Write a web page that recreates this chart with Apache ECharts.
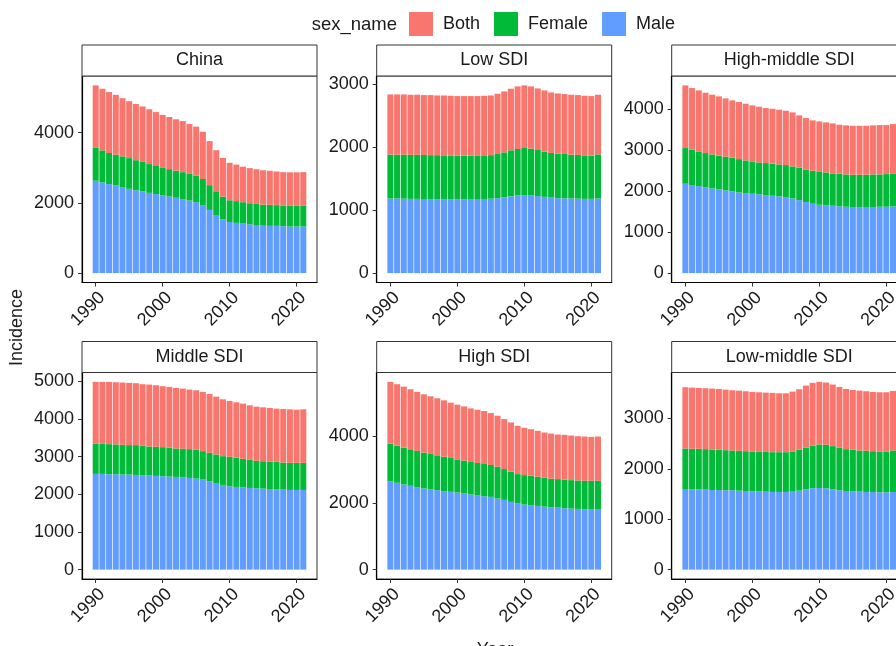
<!DOCTYPE html>
<html><head><meta charset="utf-8">
<script src="https://cdn.jsdelivr.net/npm/echarts@6/dist/echarts.min.js"></script>
<style>html,body{margin:0;padding:0;background:#fff}#c{width:896px;height:646px}</style>
</head><body><div id="c"></div>
<script>
const years = [1990,1991,1992,1993,1994,1995,1996,1997,1998,1999,2000,2001,2002,2003,2004,2005,2006,2007,2008,2009,2010,2011,2012,2013,2014,2015,2016,2017,2018,2019,2020,2021];
const regions = ['China','Low SDI','High-middle SDI','Middle SDI','High SDI','Low-middle SDI'];
const sexes = ['Both','Female','Male'];
const xTicks = [1990,2000,2010,2020];

const chinaMale   = [2630,2580,2535,2495,2450,2400,2360,2325,2285,2250,2220,2180,2145,2105,2065,2020,1935,1800,1655,1535,1455,1430,1410,1390,1370,1350,1345,1345,1335,1325,1325,1325];
const chinaFemale = [935,915,885,875,875,875,855,840,820,820,790,780,770,770,760,750,745,705,675,640,620,620,610,600,600,600,600,590,590,590,590,590];
const chinaBoth   = [1780,1755,1735,1705,1655,1620,1600,1580,1560,1515,1495,1485,1465,1455,1420,1400,1345,1255,1170,1105,1065,1040,1010,1000,990,980,970,960,950,955,955,960];

const lowMale   = [1186,1186,1183,1180,1180,1178,1175,1175,1175,1175,1175,1175,1175,1178,1178,1183,1191,1205,1220,1234,1239,1234,1225,1212,1200,1191,1188,1186,1183,1180,1180,1186];
const lowFemale = [697,697,700,700,700,700,700,700,697,695,692,692,692,692,694,692,703,715,732,739,750,745,732,719,710,708,706,697,695,692,687,702];
const lowBoth   = [957,957,957,955,955,952,955,949,952,949,947,947,947,944,947,949,957,968,979,995,995,989,979,973,962,957,952,952,952,947,947,947];

const hmMale   = [2179,2146,2122,2089,2065,2041,2016,1992,1967,1951,1935,1919,1902,1886,1870,1854,1821,1780,1732,1691,1667,1650,1642,1626,1618,1610,1610,1610,1610,1618,1618,1626];
const hmFemale = [870,862,845,838,829,821,821,821,813,797,789,780,781,781,780,780,781,789,796,805,813,805,789,797,788,788,788,788,796,788,797,805];
const hmBoth   = [1528,1504,1488,1471,1456,1447,1423,1398,1391,1382,1365,1358,1341,1341,1334,1325,1317,1277,1252,1228,1219,1220,1219,1195,1196,1195,1195,1195,1196,1204,1195,1203];

const midMale   = [2540,2540,2531,2531,2522,2522,2513,2504,2496,2487,2478,2469,2460,2451,2433,2416,2389,2345,2300,2247,2211,2194,2185,2167,2158,2149,2140,2131,2123,2114,2114,2114];
const midFemale = [799,799,799,791,791,782,791,782,772,772,772,764,755,755,764,763,755,755,755,764,782,781,755,746,728,728,729,729,719,719,719,719];
const midBoth   = [1643,1643,1652,1651,1651,1652,1643,1634,1643,1634,1617,1616,1607,1599,1581,1581,1572,1563,1536,1509,1483,1466,1465,1448,1439,1430,1421,1412,1421,1421,1412,1421];

const highMale   = [2643,2603,2553,2513,2472,2432,2402,2382,2352,2332,2312,2281,2251,2221,2201,2181,2131,2090,2030,1980,1950,1930,1910,1889,1869,1859,1839,1829,1819,1809,1799,1799];
const highFemale = [1136,1116,1105,1095,1086,1075,1065,1045,1035,1015,994,985,975,975,965,955,954,925,905,884,884,884,874,865,855,855,854,854,854,854,864,864];
const highBoth   = [1849,1839,1829,1799,1769,1749,1729,1709,1688,1658,1639,1628,1608,1598,1588,1557,1528,1497,1477,1447,1417,1397,1377,1356,1356,1336,1347,1337,1327,1327,1317,1327];

const lmMale   = [1599,1593,1593,1586,1579,1579,1573,1573,1566,1559,1553,1553,1546,1540,1540,1540,1546,1566,1593,1613,1619,1613,1593,1573,1559,1553,1546,1540,1540,1533,1533,1540];
const lmFemale = [803,803,803,803,803,797,796,789,790,790,790,783,790,789,789,789,797,810,829,849,863,862,856,843,830,823,816,816,809,810,810,822];
const lmBoth   = [1215,1214,1207,1208,1208,1207,1201,1195,1194,1188,1181,1181,1174,1175,1168,1168,1187,1201,1228,1241,1241,1235,1221,1207,1194,1187,1188,1181,1175,1174,1174,1182];

const chinaTicks = [0,2000,4000];
const lowTicks = [0,1000,2000,3000];
const hmTicks = [0,1000,2000,3000,4000];
const midTicks = [0,1000,2000,3000,4000,5000];
const highTicks = [0,2000,4000];
const lmTicks = [0,1000,2000,3000];

const panelData = {
  'China': {Male: chinaMale, Female: chinaFemale, Both: chinaBoth, ticks: chinaTicks},
  'Low SDI': {Male: lowMale, Female: lowFemale, Both: lowBoth, ticks: lowTicks},
  'High-middle SDI': {Male: hmMale, Female: hmFemale, Both: hmBoth, ticks: hmTicks},
  'Middle SDI': {Male: midMale, Female: midFemale, Both: midBoth, ticks: midTicks},
  'High SDI': {Male: highMale, Female: highFemale, Both: highBoth, ticks: highTicks},
  'Low-middle SDI': {Male: lmMale, Female: lmFemale, Both: lmBoth, ticks: lmTicks}
};

const FONT = '"Liberation Sans", Arial, Helvetica, sans-serif';
const TXT = '#1a1a1a';
const colors = {Both: '#F8766D', Female: '#00BA38', Male: '#619CFF'};
const colLeft = [82, 376.7, 671.7];
const rowTop = [76, 372.5];
const panelW = 235, panelH = 206.5, stripH = 31;
const span = years[years.length-1] - years[0] + 0.9;
const xMin = years[0] - 0.45 - 0.05 * span;
const xMax = years[years.length-1] + 0.45 + 0.05 * span;
const barW = 0.9 * panelW / (xMax - xMin);
const plain = v => String(Math.round(v));

const grids = [], xAxes = [], yAxes = [], series = [], graphics = [];
regions.forEach((r, i) => {
  const c = i % 3, row = Math.floor(i / 3);
  const d = panelData[r];
  const totals = years.map((y, k) => d.Male[k] + d.Female[k] + d.Both[k]);
  const maxT = Math.max.apply(null, totals);
  grids.push({left: colLeft[c], top: rowTop[row], width: panelW, height: panelH,
    show: true, borderColor: '#333', borderWidth: 1, backgroundColor: '#fff',
    containLabel: false, outerBoundsMode: 'none'});
  xAxes.push({gridIndex: i, type: 'value', min: xMin, max: xMax,
    axisLine: {show: true, onZero: false, lineStyle: {color: '#000', width: 1.2}},
    axisTick: {show: true, length: 4, customValues: xTicks, lineStyle: {color: '#333'}},
    axisLabel: {customValues: xTicks, formatter: plain, rotate: 45, align: 'right', verticalAlign: 'top',
      fontSize: 18, fontFamily: FONT, color: TXT, margin: 6},
    splitLine: {show: false}});
  yAxes.push({gridIndex: i, type: 'value', min: -0.05 * maxT, max: 1.05 * maxT,
    axisLine: {show: true, onZero: false, lineStyle: {color: '#000', width: 1.2}},
    axisTick: {show: true, length: 4, customValues: d.ticks, lineStyle: {color: '#333'}},
    axisLabel: {customValues: d.ticks, formatter: plain, fontSize: 18, fontFamily: FONT, color: TXT, margin: 8},
    splitLine: {show: false}});
  ['Male', 'Female', 'Both'].forEach(s => {
    series.push({type: 'bar', name: s, xAxisIndex: i, yAxisIndex: i, stack: 'p' + i,
      barWidth: barW, itemStyle: {color: colors[s]}, emphasis: {disabled: true},
      encode: {x: 1, y: 0},
      data: years.map((y, k) => [d[s][k], y])});
  });
  graphics.push({type: 'rect', shape: {x: colLeft[c], y: rowTop[row] - stripH, width: panelW, height: stripH},
    style: {fill: '#fff', stroke: '#333', lineWidth: 1}, z: 10});
  graphics.push({type: 'text', x: colLeft[c] + panelW / 2, y: rowTop[row] - stripH / 2,
    style: {text: r, fontSize: 18, fontFamily: FONT, fill: TXT, align: 'center', verticalAlign: 'middle'}, z: 11});
});

graphics.push({type: 'text', x: 311.7, y: 25,
  style: {text: 'sex_name', fontSize: 18.5, fontFamily: FONT, fill: TXT, align: 'left', verticalAlign: 'middle'}});
graphics.push({type: 'text', x: 17.5, y: 327.5, rotation: Math.PI / 2,
  style: {text: 'Incidence', fontSize: 18, fontFamily: FONT, fill: TXT, align: 'center', verticalAlign: 'middle'}});
graphics.push({type: 'text', x: 495, y: 650,
  style: {text: 'Year', fontSize: 18, fontFamily: FONT, fill: TXT, align: 'center', verticalAlign: 'middle'}});

const chart = echarts.init(document.getElementById('c'), null, {renderer: 'canvas'});
chart.setOption({
  animation: false,
  backgroundColor: '#fff',
  legend: {top: 12, left: 409, padding: 0, itemWidth: 24, itemHeight: 24, itemGap: 14, icon: 'rect',
    selectedMode: false, data: sexes,
    textStyle: {fontSize: 18, fontFamily: FONT, color: TXT, padding: [0, 0, 0, 5]}},
  grid: grids, xAxis: xAxes, yAxis: yAxes, series: series, graphic: graphics
});
</script></body></html>
